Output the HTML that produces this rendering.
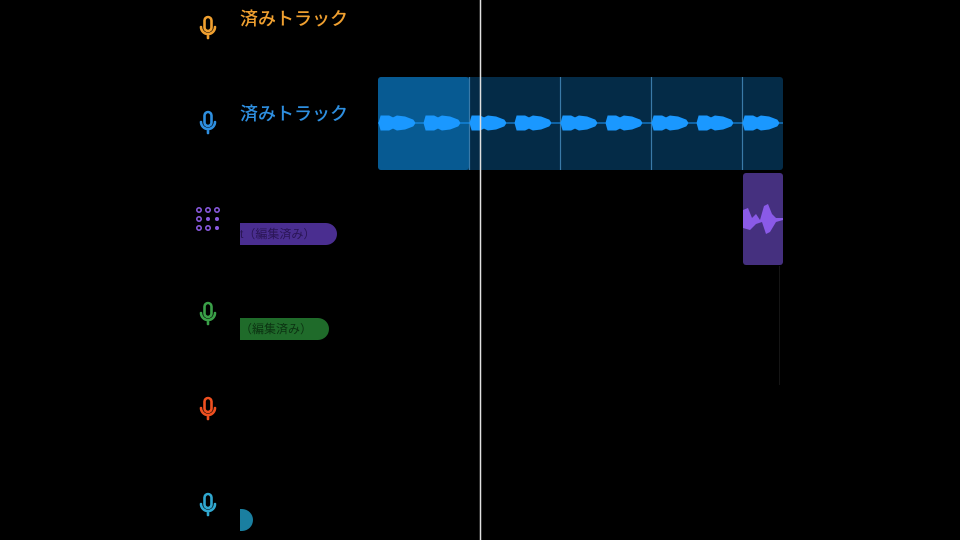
<!DOCTYPE html>
<html><head><meta charset="utf-8"><style>
body{margin:0;background:#000;width:960px;height:540px;overflow:hidden;position:relative;font-family:"Liberation Sans","Noto Sans CJK JP",sans-serif}
.t{position:absolute;font-size:18px;font-weight:500;white-space:nowrap}
.pill{position:absolute;height:22px;border-radius:0 11px 11px 0;font-size:12px;line-height:22px;white-space:nowrap;overflow:hidden}
</style></head><body>
<svg width="960" height="540" style="position:absolute;left:0;top:0">
<defs>
<g id="mic" fill="none" stroke-width="2.6" stroke-linecap="round">
<rect x="-3.5" y="-11" width="7" height="14" rx="3.5"/>
<path d="M-7,-1 A7,7 0 0 0 7,-1 M0,6 V10"/>
</g>
<g id="blob"><path d="M0,0 L2,-7 L10,-7 L14,-5 L18,-7 L26,-6 L34,-3 L36,0 L34,3 L26,6 L18,7 L14,5 L10,7 L2,7 Z"/></g>
<g id="seg">
<line x1="0" y1="0" x2="91" y2="0" stroke-width="1"/>
<use href="#blob" x="1"/><use href="#blob" x="46"/>
</g>
</defs>
<use href="#mic" x="208" y="28" stroke="#f0a030"/>
<use href="#mic" x="208" y="123" stroke="#2e8fe0"/>
<use href="#mic" x="208" y="314" stroke="#3aa048"/>
<use href="#mic" x="208" y="409" stroke="#f05020"/>
<use href="#mic" x="208" y="505" stroke="#30a8d0"/>
<g fill="none" stroke="#8a5ae0" stroke-width="1.6">
<circle cx="199" cy="210" r="2.2"/><circle cx="208" cy="210" r="2.2"/><circle cx="217" cy="210" r="2.2"/>
<circle cx="199" cy="219" r="2.2"/><circle cx="199" cy="228" r="2.2"/><circle cx="208" cy="228" r="2.2"/>
</g>
<g fill="#8a5ae0"><circle cx="208" cy="219" r="2"/><circle cx="217" cy="219" r="2"/><circle cx="217" cy="228" r="2"/></g>
<rect x="378" y="77" width="405" height="93" rx="3" fill="#042b47"/>
<rect x="378" y="77" width="91" height="93" rx="3" fill="#075a92"/>
<g stroke="#3a7aa8" stroke-width="1.2"><line x1="469.5" y1="77" x2="469.5" y2="170"/><line x1="560.5" y1="77" x2="560.5" y2="170"/><line x1="651.5" y1="77" x2="651.5" y2="170"/><line x1="742.5" y1="77" x2="742.5" y2="170"/></g>
<g fill="#1a98ff" stroke="#1a98ff">
<use href="#seg" x="378" y="123"/><use href="#seg" x="469" y="123"/><use href="#seg" x="560" y="123"/><use href="#seg" x="651" y="123"/><use href="#seg" x="742" y="123"/>
</g>
<rect x="378" y="170" width="500" height="3" fill="#000"/>
<rect x="783" y="60" width="200" height="220" fill="#000"/>
<rect x="743" y="173" width="40" height="92" rx="3" fill="#45307f"/>
<path d="M743,210 L748,208 L752,218 L756,214 L760,220 L764,206 L768,204 L772,214 L776,218 L783,218 L783,220 L776,222 L770,232 L766,234 L762,222 L756,224 L750,230 L743,228 Z" fill="#8a5ae8"/>
<line x1="779.5" y1="266" x2="779.5" y2="385" stroke="#151515" stroke-width="1"/>
<line x1="480.5" y1="0" x2="480.5" y2="540" stroke="#e0e0e0" stroke-width="1.5"/>
<path d="M240,509 L242,509 A11,11 0 0 1 242,531 L240,531 Z" fill="#1a7fa0"/>
</svg>
<div class="t" style="left:240px;top:5px;color:#f0a030">済みトラック</div>
<div class="t" style="left:240px;top:100px;color:#2e8fe0">済みトラック</div>
<div class="pill" style="left:240px;top:223px;width:97px;background:#4a2e90;color:#2a1555">t（編集済み）</div>
<div class="pill" style="left:240px;top:318px;width:89px;background:#1f6b2a;color:#0c3312">（編集済み）</div>
</body></html>
